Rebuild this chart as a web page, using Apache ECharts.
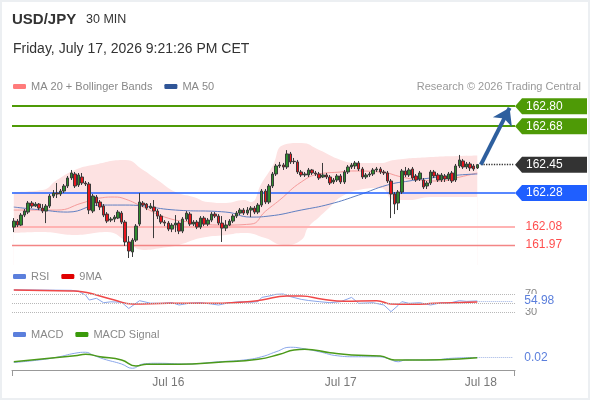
<!DOCTYPE html>
<html>
<head>
<meta charset="utf-8">
<script src="https://cdn.jsdelivr.net/npm/echarts@6/dist/echarts.min.js"></script>
<style>
  html, body { margin: 0; padding: 0; background: #fff; }
  #chart { width: 590px; height: 400px; }
  #frame { position: absolute; left: 0; top: 0; width: 590px; height: 400px; box-sizing: border-box;
           border: 2px solid #eceff2; pointer-events: none; }
</style>
</head>
<body>
<div id="chart"></div>
<div id="frame"></div>
<script>
// 30 min candles
var openP = [
  162.076, 162.112, 162.088, 162.148, 162.166, 162.220, 162.202, 162.214, 162.190, 162.172,
  162.202, 162.262, 162.280, 162.274, 162.292, 162.322, 162.370, 162.394, 162.328, 162.376,
  162.340, 162.334, 162.172, 162.256, 162.226, 162.202, 162.154, 162.118, 162.124, 162.130,
  162.160, 162.106, 161.987, 161.927, 161.998, 162.094, 162.220, 162.214, 162.190, 162.196,
  162.172, 162.142, 162.106, 162.100, 162.064, 162.088, 162.100, 162.052, 162.124, 162.154,
  162.094, 162.106, 162.076, 162.130, 162.094, 162.118, 162.154, 162.142, 162.100, 162.070,
  162.088, 162.112, 162.142, 162.160, 162.178, 162.160, 162.178, 162.190, 162.166, 162.208,
  162.292, 162.226, 162.322, 162.394, 162.442, 162.448, 162.436, 162.514, 162.470, 162.466,
  162.406, 162.388, 162.388, 162.418, 162.400, 162.394, 162.376, 162.388, 162.376, 162.346,
  162.358, 162.382, 162.346, 162.406, 162.436, 162.442, 162.460, 162.424, 162.376, 162.388,
  162.394, 162.418, 162.424, 162.406, 162.400, 162.352, 162.274, 162.220, 162.286, 162.412,
  162.388, 162.424, 162.382, 162.364, 162.358, 162.322, 162.340, 162.406, 162.388, 162.358,
  162.382, 162.364, 162.400, 162.358, 162.442, 162.472, 162.436, 162.454, 162.442, 162.430
];
var closeP = [
  162.112, 162.088, 162.148, 162.172, 162.220, 162.202, 162.214, 162.190, 162.172, 162.202,
  162.262, 162.280, 162.274, 162.292, 162.322, 162.370, 162.400, 162.322, 162.388, 162.340,
  162.334, 162.178, 162.262, 162.220, 162.196, 162.148, 162.112, 162.124, 162.136, 162.166,
  162.106, 161.987, 161.933, 161.998, 162.082, 162.226, 162.208, 162.190, 162.202, 162.172,
  162.142, 162.106, 162.100, 162.064, 162.088, 162.100, 162.052, 162.124, 162.160, 162.094,
  162.106, 162.076, 162.130, 162.094, 162.118, 162.154, 162.142, 162.100, 162.070, 162.088,
  162.112, 162.142, 162.160, 162.178, 162.160, 162.178, 162.190, 162.166, 162.208, 162.292,
  162.226, 162.322, 162.394, 162.442, 162.448, 162.436, 162.514, 162.466, 162.468, 162.406,
  162.388, 162.394, 162.418, 162.400, 162.394, 162.370, 162.388, 162.376, 162.340, 162.358,
  162.382, 162.346, 162.406, 162.436, 162.448, 162.460, 162.424, 162.376, 162.388, 162.394,
  162.418, 162.424, 162.406, 162.400, 162.352, 162.274, 162.214, 162.286, 162.412, 162.388,
  162.418, 162.370, 162.358, 162.400, 162.316, 162.340, 162.406, 162.382, 162.358, 162.388,
  162.364, 162.394, 162.352, 162.442, 162.478, 162.436, 162.454, 162.430, 162.424, 162.450
];
var lowP = [
  162.046, 162.076, 162.082, 162.136, 162.154, 162.190, 162.196, 162.178, 162.160, 162.100,
  162.190, 162.250, 162.250, 162.262, 162.280, 162.310, 162.358, 162.310, 162.316, 162.328,
  162.322, 162.154, 162.160, 162.202, 162.178, 162.136, 162.100, 162.106, 162.106, 162.124,
  162.094, 161.963, 161.891, 161.897, 161.987, 162.082, 162.196, 162.178, 162.184, 162.010,
  162.124, 162.094, 162.082, 162.052, 162.046, 162.046, 162.034, 162.040, 162.112, 162.082,
  162.082, 162.064, 162.064, 162.082, 162.082, 162.106, 162.130, 162.088, 161.987, 162.052,
  162.082, 162.100, 162.130, 162.148, 162.148, 162.148, 162.136, 162.154, 162.154, 162.196,
  162.214, 162.214, 162.310, 162.382, 162.430, 162.418, 162.424, 162.454, 162.454, 162.394,
  162.376, 162.376, 162.376, 162.388, 162.382, 162.358, 162.370, 162.364, 162.328, 162.334,
  162.346, 162.334, 162.334, 162.394, 162.424, 162.424, 162.412, 162.364, 162.364, 162.376,
  162.382, 162.406, 162.394, 162.388, 162.340, 162.130, 162.154, 162.178, 162.274, 162.376,
  162.376, 162.358, 162.346, 162.352, 162.304, 162.304, 162.328, 162.370, 162.346, 162.346,
  162.346, 162.352, 162.340, 162.346, 162.430, 162.424, 162.424, 162.412, 162.412, 162.424
];
var highP = [
  162.130, 162.124, 162.160, 162.184, 162.232, 162.232, 162.226, 162.220, 162.214, 162.214,
  162.274, 162.298, 162.340, 162.304, 162.334, 162.382, 162.418, 162.406, 162.400, 162.400,
  162.352, 162.346, 162.274, 162.268, 162.238, 162.214, 162.166, 162.136, 162.148, 162.178,
  162.172, 162.118, 162.022, 162.010, 162.094, 162.280, 162.232, 162.220, 162.220, 162.238,
  162.184, 162.154, 162.118, 162.112, 162.100, 162.148, 162.112, 162.136, 162.172, 162.166,
  162.118, 162.118, 162.142, 162.142, 162.130, 162.166, 162.166, 162.154, 162.142, 162.118,
  162.124, 162.154, 162.172, 162.190, 162.190, 162.196, 162.202, 162.202, 162.220, 162.304,
  162.304, 162.334, 162.406, 162.454, 162.466, 162.460, 162.537, 162.526, 162.490, 162.478,
  162.418, 162.406, 162.430, 162.424, 162.412, 162.406, 162.460, 162.400, 162.388, 162.370,
  162.394, 162.394, 162.418, 162.448, 162.460, 162.472, 162.472, 162.436, 162.400, 162.406,
  162.430, 162.436, 162.436, 162.418, 162.412, 162.364, 162.286, 162.298, 162.424, 162.436,
  162.430, 162.436, 162.394, 162.412, 162.370, 162.352, 162.418, 162.418, 162.400, 162.400,
  162.394, 162.406, 162.412, 162.454, 162.508, 162.484, 162.466, 162.466, 162.454, 162.454
];

// indicator readings: [candle index, value]
var bbUpper = [[0,162.286],[8,162.298],[12,162.358],[17,162.418],[22,162.448],[31,162.478],[36,162.418],[40,162.358],
  [45,162.286],[50,162.256],[54,162.226],[59,162.220],[64,162.238],[66,162.226],[69,162.340],[72,162.440],[75,162.567],
  [80,162.579],[85,162.537],[91,162.478],[96,162.460],[102,162.460],[106,162.478],[116,162.495],[121,162.500],[129,162.505]];
var bbLower = [[0,162.040],[8,162.046],[17,162.028],[26,162.046],[31,161.998],[36,161.939],[41,161.951],[46,161.969],
  [52,162.010],[59,162.028],[64,162.040],[70,162.010],[75,161.969],[80,161.999],[82,162.076],[85,162.136],[88,162.196],
  [91,162.256],[96,162.298],[102,162.310],[106,162.238],[110,162.238],[116,162.256],[121,162.256],[129,162.256]];
var ma20 = [[0,162.178],[12,162.178],[19,162.220],[24,162.250],[28,162.256],[31,162.244],[36,162.196],[42,162.136],
  [49,162.106],[58,162.088],[66,162.094],[70,162.170],[74,162.238],[80,162.346],[85,162.394],[91,162.406],[94,162.412],
  [102,162.406],[108,162.376],[113,162.358],[119,162.352],[123,162.370],[129,162.400]];
var ma50 = [[0,162.196],[8,162.178],[15,162.166],[24,162.208],[31,162.208],[45,162.178],[59,162.166],[66,162.136],
  [71,162.142],[80,162.178],[88,162.214],[96,162.268],[104,162.328],[110,162.352],[116,162.370],[124,162.388],[129,162.394]];
var rsi = [[0,80],[10,79.5],[16,79],[18,77],[20,68],[21,57],[23,61],[25,51],[27,53],[30,52],[32,38],[35,55.6],[38,50],
  [41,49.6],[44,51],[46,45.8],[49,50],[52,51],[55,48],[57,45.8],[60,51],[63,53.4],[66,52],[68,53.4],[69,63],[71,66],
  [73,70],[75,70.7],[77,64.7],[80,58.6],[82,56],[85,53.4],[88,51],[91,53.4],[94,63],[96,49.6],[100,51],[103,45.8],
  [105,30.8],[107,45],[108,53.4],[110,49.6],[113,51],[116,45.8],[119,51],[121,49.6],[124,55.6],[126,54],[129,54.98]];
var rsiMa = [[0,79.7],[16,77.5],[19,76],[23,68.4],[28,57.1],[33,48.1],[43,49.6],[54,49.6],[64,52.6],[69,57.1],[76,66.2],
  [80,66.2],[86,58.6],[92,54.1],[101,55.6],[105,48.1],[111,47.3],[117,49.6],[122,51.1],[129,52.6]];
var macd = [[0,0.000],[7,0.010],[12,0.021],[17,0.037],[20,0.041],[22,0.030],[25,0.014],[30,-0.006],[33,-0.023],[36,-0.006],
  [40,-0.003],[48,-0.006],[57,0.003],[64,0.010],[69,0.023],[73,0.043],[77,0.061],[80,0.057],[85,0.043],[90,0.027],
  [95,0.023],[101,0.023],[104,0.017],[107,0.003],[109,0.010],[116,0.010],[122,0.017],[129,0.020]];
var macdSignal = [[0,0.003],[17,0.027],[20,0.033],[24,0.023],[30,0.010],[34,-0.014],[37,-0.007],[46,-0.007],[57,0.001],
  [68,0.013],[74,0.033],[78,0.050],[81,0.053],[88,0.039],[94,0.030],[102,0.026],[106,0.010],[110,0.010],[119,0.011],[129,0.019]];

// levels and labels
var resistanceLevels = [162.80, 162.68];
var lastPrice = 162.45;
var supportLevels = [162.28];
var lowerLevels = [162.08, 161.97];
var targetPrice = 162.79;
var rsiLevels = [70, 50, 30];
var rsiLast = 54.98;
var macdLast = 0.02;
var tickIndex = [43, 91, 130];
var tickLabels = ['Jul 16', 'Jul 17', 'Jul 18'];
var slotCount = 140;

var categories = [];
for (var i = 0; i < slotCount; i++) categories.push('');
tickIndex.forEach(function (t, k) { categories[t] = tickLabels[k]; });

var candles = openP.map(function (o, i) { return [o, closeP[i], lowP[i], highP[i]]; });
var last = closeP.length - 1;

var GREEN = '#4e9a06', BLUE = '#1f5fff', DARK = '#333333', FONT = 'Liberation Sans, Arial, sans-serif';
var TAG_PATH = 'path://M0,8L7,0L72,0L72,16L7,16Z';

function tag(v, color) {
  return {
    value: [0, v], symbol: TAG_PATH, symbolSize: [72, 16], symbolOffset: [36, 0],
    itemStyle: { color: color, opacity: 1 },
    label: { show: true, position: [11, 2], color: '#fff', fontSize: 12, formatter: v.toFixed(2) }
  };
}
function plainTag(v) {
  return {
    value: [0, v], symbolSize: 1, itemStyle: { color: 'rgba(0,0,0,0)' },
    label: { show: true, position: 'right', distance: 10, color: '#ff1f1f', fontSize: 12, formatter: v.toFixed(2) }
  };
}
var tags = [];
resistanceLevels.forEach(function (v) { tags.push(tag(v, GREEN)); });
tags.push(tag(lastPrice, DARK));
supportLevels.forEach(function (v) { tags.push(tag(v, BLUE)); });
lowerLevels.forEach(function (v) { tags.push(plainTag(v)); });

var upperLines = [];
resistanceLevels.forEach(function (v) { upperLines.push({ yAxis: v, lineStyle: { color: GREEN, width: 2, type: 'solid' } }); });
supportLevels.forEach(function (v) { upperLines.push({ yAxis: v, lineStyle: { color: BLUE, width: 1.5, type: 'solid' } }); });

var legendBase = {
  left: 13, padding: 0, itemWidth: 13, itemHeight: 5, itemGap: 12, icon: 'roundRect',
  selectedMode: false, textStyle: { color: '#888', fontSize: 11 }
};

// one flat level line on the price grid (an empty series just to carry the markLine)
function levelSeries(v, color, width) {
  return {
    type: 'line', data: [], silent: true, z: 3, color: color,
    markLine: { silent: true, symbol: ['none', 'none'], label: { show: false },
      lineStyle: { color: color, width: width, type: 'solid', opacity: 1 },
      data: [{ yAxis: v }] }
  };
}

var chart = echarts.init(document.getElementById('chart'));
chart.setOption({
  animation: false,
  textStyle: { fontFamily: FONT },
  title: [
    { text: 'USD/JPY', left: 12, top: 12, padding: 0, textStyle: { fontSize: 15, fontWeight: 'bold', color: '#333' } },
    { text: '30 MIN', left: 86, top: 13, padding: 0, textStyle: { fontSize: 12.5, fontWeight: 'normal', color: '#333' } },
    { text: 'Friday, July 17, 2026 9:21:26 PM CET', left: 13, top: 42, padding: 0,
      textStyle: { fontSize: 14, fontWeight: 'normal', color: '#333' } },
    { text: 'Research \u00a9 2026 Trading Central', right: 9, top: 81, padding: 0,
      textStyle: { fontSize: 11, fontWeight: 'normal', color: '#999' } }
  ],
  legend: [
    Object.assign({}, legendBase, { top: 81, data: [
      { name: 'MA 20 + Bollinger Bands', itemStyle: { color: '#ff7b7b' } },
      { name: 'MA 50', itemStyle: { color: '#2f5597' } }] }),
    Object.assign({}, legendBase, { top: 271, data: [
      { name: 'RSI', itemStyle: { color: '#5b7fdc' } },
      { name: '9MA', itemStyle: { color: '#e00000' } }] }),
    Object.assign({}, legendBase, { top: 329, data: [
      { name: 'MACD', itemStyle: { color: '#5b7fdc' } },
      { name: 'MACD Signal', itemStyle: { color: '#3a9a0a' } }] })
  ],
  grid: [
    { left: 12, right: 75, top: 95, height: 170 },
    { left: 12, right: 75, top: 285.45, height: 35.4 },
    { left: 12, right: 75, top: 345, height: 25 },
    { left: 515, right: 0, top: 95, height: 170 }
  ],
  xAxis: [
    { type: 'category', gridIndex: 0, data: categories, show: false },
    { type: 'category', gridIndex: 1, data: categories, show: false },
    { type: 'category', gridIndex: 2, data: categories,
      axisLine: { onZero: false, lineStyle: { color: '#999' } }, axisTick: { show: false },
      axisLabel: { color: '#777', fontSize: 12, margin: 7, interval: function (i, v) { return v !== ''; } } },
    { type: 'value', gridIndex: 3, min: 0, max: 1, show: false }
  ],
  yAxis: [
    { type: 'value', gridIndex: 0, min: 161.849, max: 162.867, show: false },
    { type: 'value', gridIndex: 1, min: 10, max: 90, interval: 20, position: 'right',
      axisLine: { show: false }, axisTick: { show: false }, splitLine: { show: false },
      axisLabel: { color: '#888', fontSize: 11, margin: 10,
        formatter: function (v) { return (v === 70 || v === 30) ? String(v) : ''; } } },
    { type: 'value', gridIndex: 2, min: -0.03, max: 0.07, show: false },
    { type: 'value', gridIndex: 3, min: 161.849, max: 162.867, show: false }
  ],
  graphic: [
    { type: 'line', shape: { x1: 12.5, y1: 370, x2: 12.5, y2: 376 }, style: { stroke: '#999', lineWidth: 1 } },
    { type: 'line', shape: { x1: 514.5, y1: 370, x2: 514.5, y2: 376 }, style: { stroke: '#999', lineWidth: 1 } }
  ],
  series: [
    { type: 'line', name: 'bbUpper', data: bbUpper, smooth: true, symbol: 'none', silent: true, z: 1,
      lineStyle: { width: 0 }, areaStyle: { color: '#fde2e2', opacity: 1, origin: 'start' } },
    { type: 'line', name: 'bbLower', data: bbLower, smooth: true, symbol: 'none', silent: true, z: 2,
      lineStyle: { width: 0 }, areaStyle: { color: '#ffffff', opacity: 1, origin: 'start' } },
    levelSeries(lowerLevels[0], '#ffb3b3', 2),
    levelSeries(lowerLevels[1], '#f38585', 1.3),
    { type: 'line', name: 'MA 20 + Bollinger Bands', data: ma20, smooth: true, symbol: 'none', z: 3,
      color: '#f59a9a', lineStyle: { width: 1 },
      markLine: { silent: true, symbol: ['none', 'none'], label: { show: false }, data: upperLines } },
    { type: 'line', name: 'MA 50', data: ma50, smooth: true, symbol: 'none', z: 3,
      color: '#5f7fc2', lineStyle: { width: 1 } },
    { type: 'candlestick', name: 'USD/JPY', data: candles, barWidth: 3, z: 5,
      itemStyle: { color: '#2e8b2e', color0: '#e8141c', borderColor: '#3a3a3a', borderColor0: '#3a3a3a', borderWidth: 1 },
      markLine: { silent: true, symbol: ['none', 'none'], label: { show: false }, data: [
        [{ coord: [last + 1, lastPrice], lineStyle: { type: 'dotted', color: '#333', width: 1.3 } },
         { coord: [slotCount - 1, lastPrice] }],
        [{ coord: [last + 1, lastPrice], symbol: 'none', lineStyle: { type: 'solid', color: '#2e5f9e', width: 4 } },
         { coord: [last + 9, targetPrice], symbol: 'arrow', symbolSize: 16 }]
      ] } },
    { type: 'line', name: 'RSI', xAxisIndex: 1, yAxisIndex: 1, data: rsi, symbol: 'none', z: 3,
      color: '#8aa6ea', lineStyle: { width: 1 },
      markLine: { silent: true, symbol: ['none', 'none'], data: rsiLevels.map(function (v) {
          return { yAxis: v, label: { show: false }, lineStyle: { type: 'dotted', color: '#b8b8b8', width: 1 } };
        }).concat([[
          { coord: [last, rsiLast], lineStyle: { type: 'dotted', color: '#9fb3e4', width: 1 },
            label: { show: true, position: 'end', distance: 11, color: '#5b7fdc', fontSize: 12,
              backgroundColor: '#fff', padding: [1, 2, 1, 0], formatter: rsiLast.toFixed(2) } },
          { coord: [slotCount - 1, rsiLast] }]]) } },
    { type: 'line', name: '9MA', xAxisIndex: 1, yAxisIndex: 1, data: rsiMa, smooth: true, symbol: 'none', z: 4,
      color: '#f04848', lineStyle: { width: 1.5 } },
    { type: 'line', name: 'MACD', xAxisIndex: 2, yAxisIndex: 2, data: macd, smooth: true, symbol: 'none', z: 3,
      color: '#8aa6ea', lineStyle: { width: 1 },
      markLine: { silent: true, symbol: ['none', 'none'], data: [[
        { coord: [last, macdLast], lineStyle: { type: 'dotted', color: '#9fb3e4', width: 1 },
          label: { show: true, position: 'end', distance: 11, color: '#5b7fdc', fontSize: 12, formatter: macdLast.toFixed(2) } },
        { coord: [slotCount - 1, macdLast] }]] } },
    { type: 'line', name: 'MACD Signal', xAxisIndex: 2, yAxisIndex: 2, data: macdSignal, smooth: true, symbol: 'none', z: 4,
      color: '#4c9a1a', lineStyle: { width: 1.5 } },
    { type: 'scatter', name: 'tags', xAxisIndex: 3, yAxisIndex: 3, data: tags, clip: false, silent: true, z: 6 }
  ]
});
</script>
</body>
</html>
